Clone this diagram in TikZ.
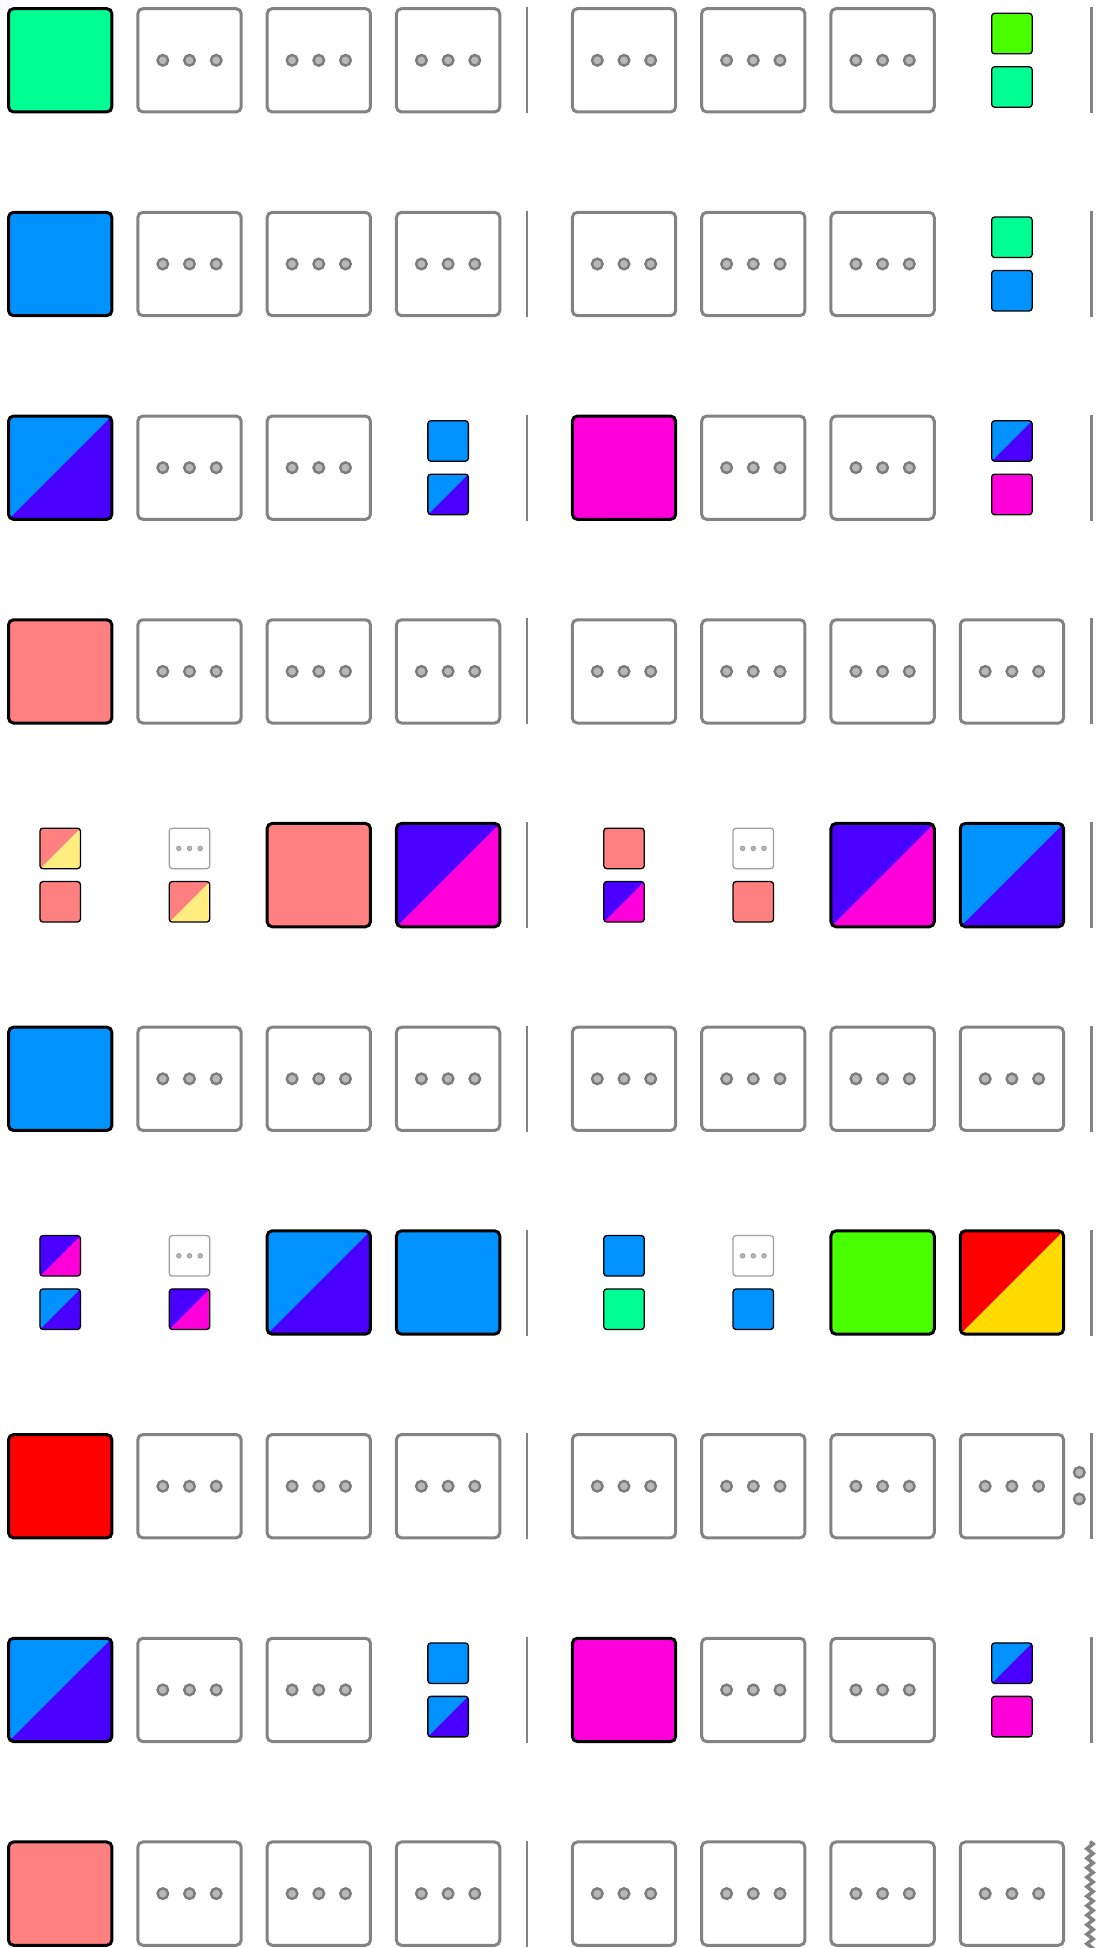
\documentclass[tikz,border=0pt]{standalone}
\usetikzlibrary{decorations.pathmorphing}
\definecolor{cred}{HTML}{FF0000}
\definecolor{cyellow}{HTML}{FFDB00}
\definecolor{clime}{HTML}{49FF00}
\definecolor{cgreen}{HTML}{00FF92}
\definecolor{cblue}{HTML}{0092FF}
\definecolor{cpurple}{HTML}{4900FF}
\definecolor{cmagenta}{HTML}{FF00DB}
\definecolor{csalmon}{HTML}{FF8080}
\definecolor{cpale}{HTML}{FFED80}
\definecolor{tilegray}{HTML}{838383}
\definecolor{dotgray}{HTML}{7C7C7C}
\definecolor{stilegray}{HTML}{A0A0A0}
\definecolor{dotfill}{HTML}{B8B8B8}
\tikzset{
  split/.style 2 args={path picture={
    \fill[#2] (path picture bounding box.south west) rectangle (path picture bounding box.north east);
    \fill[#1] (path picture bounding box.south west) -- (path picture bounding box.north west) -- (path picture bounding box.north east) -- cycle;}},
  bigsq/.style={draw=black, line width=3pt, rounded corners=5pt, minimum size=103.3pt, inner sep=0pt, outer sep=0pt},
  tile/.style={draw=tilegray, line width=3pt, rounded corners=5pt, minimum size=103.3pt, inner sep=0pt, outer sep=0pt,
    path picture={\foreach \dx in {-26.7,0,26.7}
      \filldraw[draw=dotgray, fill=dotfill, line width=2.4pt] ([xshift=\dx pt]path picture bounding box.center) circle (5.3pt);}},
  smallsq/.style={draw=black, line width=1.3pt, rounded corners=3pt, minimum size=40.5pt, inner sep=0pt, outer sep=0pt},
  stile/.style={draw=stilegray, line width=1.3pt, rounded corners=3pt, minimum size=40.5pt, inner sep=0pt, outer sep=0pt,
    path picture={\foreach \dx in {-10.7,0,10.7}
      \filldraw[draw=stilegray, fill=dotfill, line width=1pt] ([xshift=\dx pt]path picture bounding box.center) circle (2.2pt);}},
  divider/.style={draw=tilegray, line width=2.5pt},
  vdot/.style={circle, draw=dotgray, fill=dotfill, line width=2.4pt, minimum size=10.6pt, inner sep=0pt},
  zig/.style={draw=tilegray, line width=3.6pt, decorate, decoration={zigzag, segment length=9.5pt, amplitude=3pt}}
}
\newcommand{\BSq}[4]{\node[bigsq,fill=#4] (#1) at (#2,#3) {};}
\newcommand{\BSp}[5]{\node[bigsq,split={#4}{#5}] (#1) at (#2,#3) {};}
\newcommand{\TL}[3]{\node[tile] (#1) at (#2,#3) {};}
\newcommand{\SSq}[4]{\node[smallsq,fill=#4] (#1) at (#2,#3) {};}
\newcommand{\SSp}[5]{\node[smallsq,split={#4}{#5}] (#1) at (#2,#3) {};}
\newcommand{\STL}[3]{\node[stile] (#1) at (#2,#3) {};}
\newcommand{\Divs}[2]{%
  \coordinate (#1-da) at (527,#2-53); \coordinate (#1-db) at (527,#2+53);
  \draw[divider] (#1-da) -- (#1-db);}
\newcommand{\DivR}[2]{%
  \coordinate (#1-ea) at (1091.5,#2-53); \coordinate (#1-eb) at (1091.5,#2+53);
  \draw[divider] (#1-ea) -- (#1-eb);}
\begin{document}
\begin{tikzpicture}[x=1pt,y=-1pt]
\useasboundingbox[fill=white] (0,0) rectangle (1099,1948);
\def\xA{60.2}\def\xB{189.5}\def\xC{318.8}\def\xD{448.1}
\def\xE{624.0}\def\xF{753.3}\def\xG{882.6}\def\xH{1011.9}
\def\so{26.7}
% Row 1
\def\yy{60.3}
\BSq{a1}{\xA}{\yy}{cgreen}
\TL{a2}{\xB}{\yy}\TL{a3}{\xC}{\yy}\TL{a4}{\xD}{\yy}
\TL{a5}{\xE}{\yy}\TL{a6}{\xF}{\yy}\TL{a7}{\xG}{\yy}
\SSq{a8t}{\xH}{\yy-\so}{clime}\SSq{a8b}{\xH}{\yy+\so}{cgreen}
\Divs{a}{\yy}\DivR{a}{\yy}
% Row 2
\def\yy{264.0}
\BSq{b1}{\xA}{\yy}{cblue}
\TL{b2}{\xB}{\yy}\TL{b3}{\xC}{\yy}\TL{b4}{\xD}{\yy}
\TL{b5}{\xE}{\yy}\TL{b6}{\xF}{\yy}\TL{b7}{\xG}{\yy}
\SSq{b8t}{\xH}{\yy-\so}{cgreen}\SSq{b8b}{\xH}{\yy+\so}{cblue}
\Divs{b}{\yy}\DivR{b}{\yy}
% Row 3
\def\yy{467.7}
\BSp{c1}{\xA}{\yy}{cblue}{cpurple}
\TL{c2}{\xB}{\yy}\TL{c3}{\xC}{\yy}
\SSq{c4t}{\xD}{\yy-\so}{cblue}\SSp{c4b}{\xD}{\yy+\so}{cblue}{cpurple}
\BSq{c5}{\xE}{\yy}{cmagenta}
\TL{c6}{\xF}{\yy}\TL{c7}{\xG}{\yy}
\SSp{c8t}{\xH}{\yy-\so}{cblue}{cpurple}\SSq{c8b}{\xH}{\yy+\so}{cmagenta}
\Divs{c}{\yy}\DivR{c}{\yy}
% Row 4
\def\yy{671.4}
\BSq{d1}{\xA}{\yy}{csalmon}
\TL{d2}{\xB}{\yy}\TL{d3}{\xC}{\yy}\TL{d4}{\xD}{\yy}
\TL{d5}{\xE}{\yy}\TL{d6}{\xF}{\yy}\TL{d7}{\xG}{\yy}\TL{d8}{\xH}{\yy}
\Divs{d}{\yy}\DivR{d}{\yy}
% Row 5
\def\yy{875.1}
\SSp{e1t}{\xA}{\yy-\so}{csalmon}{cpale}\SSq{e1b}{\xA}{\yy+\so}{csalmon}
\STL{e2t}{\xB}{\yy-\so}\SSp{e2b}{\xB}{\yy+\so}{csalmon}{cpale}
\BSq{e3}{\xC}{\yy}{csalmon}
\BSp{e4}{\xD}{\yy}{cpurple}{cmagenta}
\SSq{e5t}{\xE}{\yy-\so}{csalmon}\SSp{e5b}{\xE}{\yy+\so}{cpurple}{cmagenta}
\STL{e6t}{\xF}{\yy-\so}\SSq{e6b}{\xF}{\yy+\so}{csalmon}
\BSp{e7}{\xG}{\yy}{cpurple}{cmagenta}
\BSp{e8}{\xH}{\yy}{cblue}{cpurple}
\Divs{e}{\yy}\DivR{e}{\yy}
% Row 6
\def\yy{1078.8}
\BSq{f1}{\xA}{\yy}{cblue}
\TL{f2}{\xB}{\yy}\TL{f3}{\xC}{\yy}\TL{f4}{\xD}{\yy}
\TL{f5}{\xE}{\yy}\TL{f6}{\xF}{\yy}\TL{f7}{\xG}{\yy}\TL{f8}{\xH}{\yy}
\Divs{f}{\yy}\DivR{f}{\yy}
% Row 7
\def\yy{1282.5}
\SSp{g1t}{\xA}{\yy-\so}{cpurple}{cmagenta}\SSp{g1b}{\xA}{\yy+\so}{cblue}{cpurple}
\STL{g2t}{\xB}{\yy-\so}\SSp{g2b}{\xB}{\yy+\so}{cpurple}{cmagenta}
\BSp{g3}{\xC}{\yy}{cblue}{cpurple}
\BSq{g4}{\xD}{\yy}{cblue}
\SSq{g5t}{\xE}{\yy-\so}{cblue}\SSq{g5b}{\xE}{\yy+\so}{cgreen}
\STL{g6t}{\xF}{\yy-\so}\SSq{g6b}{\xF}{\yy+\so}{cblue}
\BSq{g7}{\xG}{\yy}{clime}
\BSp{g8}{\xH}{\yy}{cred}{cyellow}
\Divs{g}{\yy}\DivR{g}{\yy}
% Row 8
\def\yy{1486.2}
\BSq{h1}{\xA}{\yy}{cred}
\TL{h2}{\xB}{\yy}\TL{h3}{\xC}{\yy}\TL{h4}{\xD}{\yy}
\TL{h5}{\xE}{\yy}\TL{h6}{\xF}{\yy}\TL{h7}{\xG}{\yy}\TL{h8}{\xH}{\yy}
\node[vdot] (hv1) at (1079.3,\yy-13.8) {};
\node[vdot] (hv2) at (1079.3,\yy+12.8) {};
\Divs{h}{\yy}\DivR{h}{\yy}
% Row 9
\def\yy{1689.9}
\BSp{i1}{\xA}{\yy}{cblue}{cpurple}
\TL{i2}{\xB}{\yy}\TL{i3}{\xC}{\yy}
\SSq{i4t}{\xD}{\yy-\so}{cblue}\SSp{i4b}{\xD}{\yy+\so}{cblue}{cpurple}
\BSq{i5}{\xE}{\yy}{cmagenta}
\TL{i6}{\xF}{\yy}\TL{i7}{\xG}{\yy}
\SSp{i8t}{\xH}{\yy-\so}{cblue}{cpurple}\SSq{i8b}{\xH}{\yy+\so}{cmagenta}
\Divs{i}{\yy}\DivR{i}{\yy}
% Row 10
\def\yy{1893.6}
\BSq{j1}{\xA}{\yy}{csalmon}
\TL{j2}{\xB}{\yy}\TL{j3}{\xC}{\yy}\TL{j4}{\xD}{\yy}
\TL{j5}{\xE}{\yy}\TL{j6}{\xF}{\yy}\TL{j7}{\xG}{\yy}\TL{j8}{\xH}{\yy}
\Divs{j}{\yy}
\coordinate (jz1) at (1090,\yy-52);
\coordinate (jz2) at (1090,\yy+60);
\draw[zig] (jz1) -- (jz2);
\end{tikzpicture}
\end{document}
